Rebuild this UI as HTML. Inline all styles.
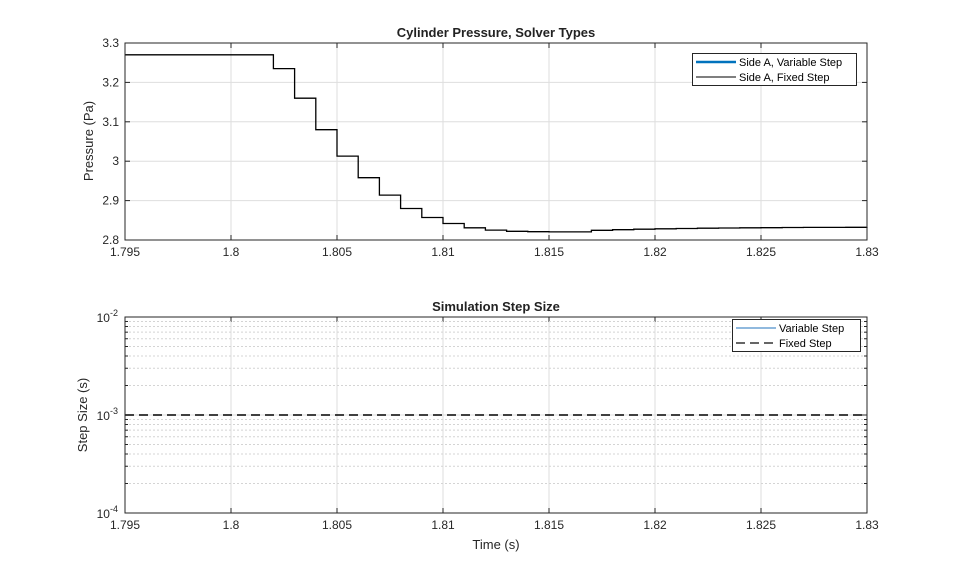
<!DOCTYPE html>
<html><head><meta charset="utf-8"><style>
html,body{margin:0;padding:0;background:#fff;}
svg{display:block;font-family:"Liberation Sans",Arial,sans-serif;}
</style></head><body>
<svg id="s" width="959" height="577" viewBox="0 0 959 577" xmlns="http://www.w3.org/2000/svg">
<rect width="959" height="577" fill="#fff"/>
<g id="g"></g>
<text x="496" y="37" text-anchor="middle" font-size="13" font-weight="bold" fill="#222">Cylinder Pressure, Solver Types</text>
<text x="496" y="311" text-anchor="middle" font-size="13" font-weight="bold" fill="#222">Simulation Step Size</text>
<text transform="translate(93,141) rotate(-90)" text-anchor="middle" font-size="13" fill="#262626">Pressure (Pa)</text>
<text transform="translate(87,415) rotate(-90)" text-anchor="middle" font-size="13" fill="#262626">Step Size (s)</text>
<text x="496" y="549" text-anchor="middle" font-size="13" fill="#262626">Time (s)</text>
</svg>
<script>
var g=document.getElementById('g'),h='';
var L=125,R=867,T1=43,B1=240,T2=317,B2=513;
function X(t){return L+(t-1.795)/0.035*(R-L);}
function Y1(p){return B1-(p-2.8)/0.5*(B1-T1);}
var xt=['1.795','1.8','1.805','1.81','1.815','1.82','1.825','1.83'];
// top grid
for(var i=0;i<8;i++){var x=X(1.795+i*0.005);
 h+='<line x1="'+x+'" y1="'+T1+'" x2="'+x+'" y2="'+B1+'" stroke="#dedede"/>';
 h+='<line x1="'+x+'" y1="'+T2+'" x2="'+x+'" y2="'+B2+'" stroke="#dedede"/>';
 h+='<line x1="'+x+'" y1="'+B1+'" x2="'+x+'" y2="'+(B1-5)+'" stroke="#262626"/><line x1="'+x+'" y1="'+T1+'" x2="'+x+'" y2="'+(T1+5)+'" stroke="#262626"/>';
 h+='<line x1="'+x+'" y1="'+B2+'" x2="'+x+'" y2="'+(B2-5)+'" stroke="#262626"/><line x1="'+x+'" y1="'+T2+'" x2="'+x+'" y2="'+(T2+5)+'" stroke="#262626"/>';
 h+='<text x="'+x+'" y="'+(B1+16)+'" text-anchor="middle" font-size="12" fill="#262626">'+xt[i]+'</text>';
 h+='<text x="'+x+'" y="'+(B2+16)+'" text-anchor="middle" font-size="12" fill="#262626">'+xt[i]+'</text>';}
var yt=['2.8','2.9','3','3.1','3.2','3.3'];
for(var i=0;i<6;i++){var y=Y1(2.8+i*0.1);
 h+='<line x1="'+L+'" y1="'+y+'" x2="'+R+'" y2="'+y+'" stroke="#dedede"/>';
 h+='<line x1="'+L+'" y1="'+y+'" x2="'+(L+5)+'" y2="'+y+'" stroke="#262626"/><line x1="'+R+'" y1="'+y+'" x2="'+(R-5)+'" y2="'+y+'" stroke="#262626"/>';
 h+='<text x="'+(L-6)+'" y="'+(y+4)+'" text-anchor="end" font-size="12" fill="#262626">'+yt[i]+'</text>';}
// bottom log grid
var D=(B2-T2)/2;
for(var d=0;d<2;d++)for(var k=2;k<=9;k++){var y=B2-d*D-Math.log10(k)*D;
 h+='<line x1="'+L+'" y1="'+y+'" x2="'+R+'" y2="'+y+'" stroke="#d4d4d4" stroke-dasharray="2,2"/>';
 h+='<line x1="'+L+'" y1="'+y+'" x2="'+(L+3)+'" y2="'+y+'" stroke="#262626"/><line x1="'+R+'" y1="'+y+'" x2="'+(R-3)+'" y2="'+y+'" stroke="#262626"/>';}
var ex=['-4','-3','-2'];
for(var d=0;d<3;d++){var y=B2-d*D;
 h+='<line x1="'+L+'" y1="'+y+'" x2="'+R+'" y2="'+y+'" stroke="#dedede"/>';
 h+='<line x1="'+L+'" y1="'+y+'" x2="'+(L+5)+'" y2="'+y+'" stroke="#262626"/><line x1="'+R+'" y1="'+y+'" x2="'+(R-5)+'" y2="'+y+'" stroke="#262626"/>';
 h+='<text x="'+(L-7)+'" y="'+(y+5)+'" text-anchor="end" font-size="12" fill="#262626">10<tspan dy="-6" font-size="9">'+ex[d]+'</tspan></text>';}
// step curve
var lv=[3.27,3.235,3.16,3.08,3.013,2.958,2.914,2.88,2.857,2.842,2.831,2.825,2.822,2.821,2.8205,2.8205];
var pts=[[X(1.795),Y1(3.27)]];var t=1.802;
for(var i=1;i<lv.length;i++){pts.push([X(t),Y1(lv[i-1])]);pts.push([X(t),Y1(lv[i])]);t+=0.001;}
for(;t<1.8305;t+=0.001){var v=2.8205+0.0125*(1-Math.exp(-(t-1.815)/0.005));if(t<1.815)v=2.8205;pts.push([X(t),pts[pts.length-1][1]]);pts.push([X(t),Y1(v)]);}
pts.push([X(1.83),pts[pts.length-1][1]]);
h+='<polyline fill="none" stroke="#000" stroke-width="1.3" points="'+pts.map(function(p){return p[0].toFixed(1)+','+p[1].toFixed(1)}).join(' ')+'"/>';
// dashed
h+='<line x1="'+L+'" y1="'+(B2-D)+'" x2="'+R+'" y2="'+(B2-D)+'" stroke="#000" stroke-width="1.5" stroke-dasharray="9,5"/>';
// boxes
h+='<rect x="'+L+'" y="'+T1+'" width="'+(R-L)+'" height="'+(B1-T1)+'" fill="none" stroke="#262626"/>';
h+='<rect x="'+L+'" y="'+T2+'" width="'+(R-L)+'" height="'+(B2-T2)+'" fill="none" stroke="#262626"/>';
// legends
h+='<rect x="692.5" y="53.5" width="164" height="32" fill="#fff" stroke="#262626"/>';
h+='<line x1="696" y1="62" x2="736" y2="62" stroke="#0072bd" stroke-width="2.5"/><text x="739" y="66" font-size="11" fill="#000">Side A, Variable Step</text>';
h+='<line x1="696" y1="77" x2="736" y2="77" stroke="#333" stroke-width="1.3"/><text x="739" y="81" font-size="11" fill="#000">Side A, Fixed Step</text>';
h+='<rect x="732.5" y="319.5" width="128" height="32" fill="#fff" stroke="#262626"/>';
h+='<line x1="736" y1="328" x2="776" y2="328" stroke="#4d8fc9" stroke-width="1.2"/><text x="779" y="332" font-size="11" fill="#000">Variable Step</text>';
h+='<line x1="736" y1="343" x2="776" y2="343" stroke="#333" stroke-width="1.5" stroke-dasharray="9,5"/><text x="779" y="347" font-size="11" fill="#000">Fixed Step</text>';
g.innerHTML=h;
</script>
</body></html>
